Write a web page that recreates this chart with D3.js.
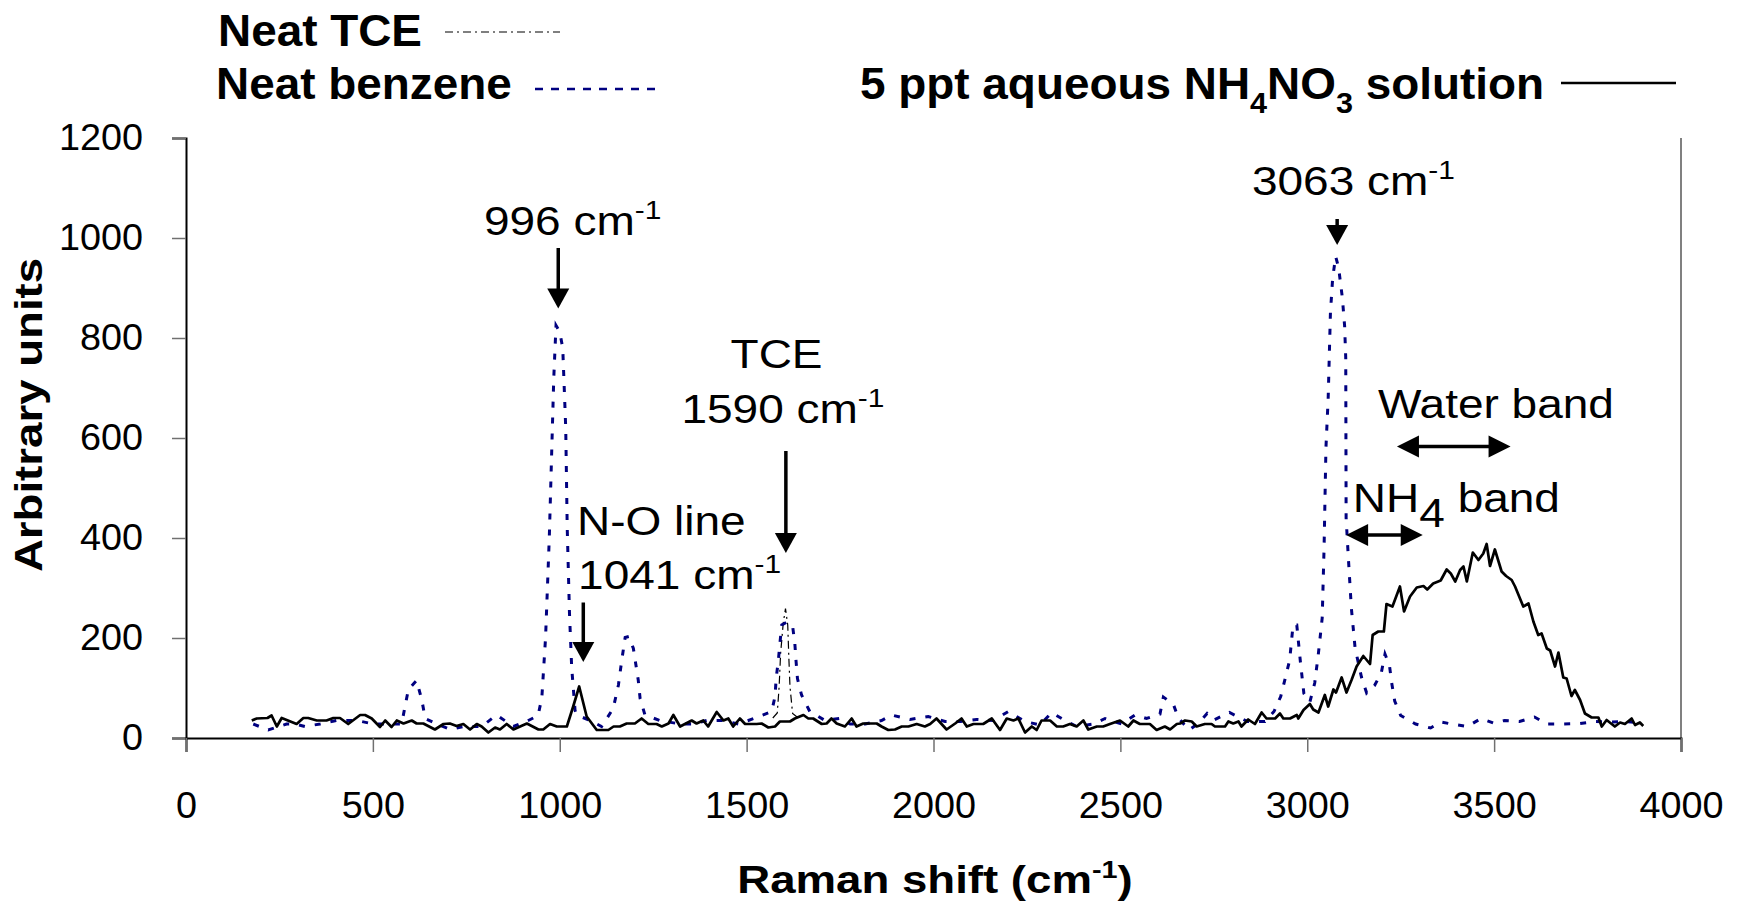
<!DOCTYPE html>
<html>
<head>
<meta charset="utf-8">
<script src="https://cdn.jsdelivr.net/npm/d3@7"></script>
<style>
  body { margin: 0; background: #fff; }
  #raman-chart svg { display: block; }
</style>
</head>
<body>
<div id="raman-chart"></div>
<script>
// values
const xTicks = [0, 500, 1000, 1500, 2000, 2500, 3000, 3500, 4000];
const yTicks = [0, 200, 400, 600, 800, 1000, 1200];

const tceShift  = [1570, 1582, 1587, 1591, 1598, 1604, 1610, 1613, 1616, 1623, 1635];
const tceCounts = [40, 50, 103, 170, 230, 259, 226, 160, 103, 49, 42];

const benzeneShift = [180, 220, 269, 292, 318, 359, 403, 457, 501, 537, 577, 586, 595, 617, 631, 640, 671, 707, 742, 791, 831, 876, 916,
  942, 952, 962, 972, 978, 984, 990, 1000, 1008, 1016, 1020, 1026, 1032, 1041, 1046, 1081, 1112, 1143, 1157, 1166, 1175, 1185,
  1197, 1210, 1215, 1228, 1268, 1322, 1357, 1393, 1438, 1478, 1527, 1567, 1576, 1579, 1585, 1589, 1594, 1608, 1623, 1629, 1632,
  1636, 1647, 1669, 1710, 1748, 1777, 1817, 1861, 1888, 1937, 1986, 2031, 2071, 2115, 2160, 2200, 2245, 2285, 2316, 2352, 2383,
  2428, 2459, 2503, 2539, 2570, 2606, 2615, 2642, 2655, 2684, 2708, 2732, 2750, 2792, 2840, 2887, 2911, 2929, 2941, 2953, 2962,
  2972, 2982, 2991, 3007, 3020, 3030, 3040, 3045, 3050, 3056, 3062, 3068, 3076, 3084, 3094, 3100, 3103, 3104, 3110, 3118, 3128,
  3145, 3159, 3180, 3198, 3208, 3220, 3226, 3234, 3250, 3290, 3330, 3358, 3386, 3428, 3465, 3498, 3528, 3568, 3608, 3640, 3686,
  3730, 3770, 3810, 3854, 3895];
const benzeneCounts = [28, 16, 28, 28, 23, 28, 35, 35, 28, 28, 28, 63, 97, 115, 76, 39, 28, 17, 23, 23, 46, 23, 35,
  45, 80, 200, 400, 560, 720, 825, 812, 780, 620, 420, 250, 140, 55, 46, 35, 23, 59, 106, 156, 201, 203,
  179, 116, 79, 46, 35, 28, 28, 35, 35, 28, 41, 53, 83, 119, 156, 189, 226, 232, 224, 189, 156,
  119, 86, 53, 35, 39, 28, 28, 35, 46, 37, 43, 33, 33, 37, 35, 53, 33, 26, 51, 35, 23,
  28, 39, 28, 46, 39, 48, 82, 67, 40, 16, 29, 49, 36, 51, 33, 33, 53, 83, 119, 156, 226,
  226, 150, 89, 72, 110, 170, 240, 380, 580, 680, 850, 920, 963, 940, 880, 824, 760, 440, 360, 260, 180,
  122, 90, 105, 130, 168, 145, 110, 74, 45, 28, 20, 32, 28, 23, 39, 30, 35, 33, 42, 28, 28,
  29, 33, 32, 33, 30];

const solutionShift = [176, 189, 218, 229, 243, 256, 296, 314, 327, 350, 376, 394, 412, 434, 466, 479, 497, 519, 533, 550, 564, 582,
  604, 617, 635, 666, 689, 706, 724, 742, 760, 778, 791, 809, 827, 840, 858, 876, 894, 912, 943, 956, 974, 992, 1019, 1036, 1052,
  1072, 1099, 1130, 1144, 1161, 1179, 1201, 1219, 1237, 1259, 1273, 1291, 1304, 1322, 1353, 1366, 1384, 1397, 1420, 1438, 1451,
  1464, 1482, 1496, 1527, 1540, 1558, 1576, 1589, 1616, 1629, 1652, 1665, 1678, 1701, 1714, 1727, 1741, 1763, 1781, 1794, 1812,
  1848, 1861, 1879, 1897, 1915, 1933, 1955, 1977, 1991, 2008, 2035, 2058, 2075, 2089, 2107, 2133, 2156, 2178, 2196, 2214, 2227,
  2245, 2263, 2276, 2289, 2312, 2330, 2347, 2365, 2383, 2401, 2414, 2437, 2454, 2472, 2499, 2521, 2535, 2552, 2579, 2597, 2619,
  2633, 2651, 2660, 2673, 2691, 2704, 2726, 2744, 2753, 2780, 2789, 2802, 2816, 2824, 2842, 2860, 2878, 2891, 2914, 2927, 2936,
  2954, 2972, 2976, 2990, 3007, 3016, 3030, 3047, 3056, 3070, 3077, 3092, 3105, 3119, 3132, 3150, 3168, 3175, 3190, 3205, 3212,
  3228, 3248, 3259, 3275, 3293, 3311, 3321, 3337, 3357, 3373, 3384, 3396, 3409, 3418, 3427, 3443, 3458, 3471, 3480, 3489, 3502,
  3520, 3532, 3547, 3556, 3578, 3592, 3605, 3618, 3627, 3641, 3650, 3663, 3672, 3685, 3694, 3707, 3716, 3730, 3743, 3761, 3779,
  3788, 3801, 3823, 3837, 3850, 3868, 3877, 3890, 3899];
const solutionCounts = [35, 39, 40, 45, 23, 40, 28, 40, 40, 35, 35, 40, 40, 28, 46, 46, 39, 22, 35, 22, 35, 29,
  35, 29, 29, 17, 28, 29, 24, 28, 17, 28, 23, 11, 21, 17, 28, 17, 23, 29, 17, 17, 28, 23, 23, 63, 103,
  43, 16, 16, 23, 23, 29, 29, 39, 28, 28, 23, 29, 46, 23, 35, 29, 35, 23, 52, 35, 39,
  23, 39, 28, 28, 29, 21, 23, 33, 33, 39, 46, 39, 39, 28, 29, 39, 29, 23, 39, 23, 29,
  29, 23, 16, 17, 23, 23, 28, 23, 28, 39, 17, 29, 39, 23, 28, 28, 39, 16, 39, 35, 39,
  11, 23, 16, 35, 35, 23, 23, 28, 23, 35, 17, 23, 23, 28, 35, 23, 35, 28, 28, 16, 23,
  17, 28, 29, 35, 33, 23, 28, 28, 23, 23, 33, 29, 33, 23, 37, 28, 51, 39, 39, 49, 39,
  39, 46, 39, 56, 68, 57, 51, 86, 63, 97, 91, 121, 91, 117, 143, 164, 148, 206, 213, 213, 268,
  263, 303, 253, 283, 301, 304, 297, 309, 315, 337, 329, 313, 336, 343, 313, 371, 356, 369, 388, 344, 377,
  333, 324, 316, 303, 263, 269, 233, 206, 209, 179, 175, 143, 171, 121, 119, 84, 96, 76, 49, 41, 41,
  23, 36, 23, 31, 28, 39, 26, 31, 24];

// peak markers: [shift, arrow top, arrow tip]
const peakArrows = [[996, 980, 859], [1063, 271, 152], [1605, 574, 370], [3080, 1038, 986]];
// band markers: [from shift, to shift, level]
const bandArrows = [[3240, 3544, 583], [3104, 3309, 406]];

function stretchedText(parent, px, py, size, sx, anchor, weight) {
  return parent.append("text")
    .attr("transform", `translate(${px},${py}) scale(${sx},1)`)
    .attr("text-anchor", anchor)
    .style("font-family", "Arial, 'Liberation Sans', sans-serif")
    .style("font-size", size + "px")
    .style("font-weight", weight || "normal")
    .attr("fill", "#000");
}

function addScript(t, main, script, size, shift, tail) {
  t.append("tspan").text(main);
  t.append("tspan").style("font-size", size + "px").attr("dy", shift).text(script);
  if (tail !== undefined) t.append("tspan").attr("dy", -shift).text(tail);
}

function createChart() {
  const margin = { top: 138, right: 57, bottom: 166, left: 186 };
  const width = 1738 - margin.left - margin.right;
  const height = 904 - margin.top - margin.bottom;

  d3.select("#raman-chart").html("");

  const root = d3.select("#raman-chart")
    .append("svg")
    .attr("width", width + margin.left + margin.right)
    .attr("height", height + margin.top + margin.bottom);

  const svg = root.append("g")
    .attr("transform", `translate(${margin.left},${margin.top})`);

  const x = d3.scaleLinear().domain([0, 4000]).range([0, width]);
  const y = d3.scaleLinear().domain([0, 1200]).range([height, 0]);

  // right border of the plot area
  svg.append("line")
    .attr("x1", width).attr("x2", width)
    .attr("y1", 0).attr("y2", height)
    .attr("stroke", "#808080").attr("stroke-width", 2);

  const tickSx = 1.05;

  const yAxis = svg.append("g")
    .call(d3.axisLeft(y).tickValues(yTicks).tickFormat(d3.format("d")).tickSize(14).tickPadding(29));
  yAxis.select(".domain").attr("stroke", "#000").attr("stroke-width", 2);
  yAxis.selectAll(".tick line").attr("stroke", "#707070").attr("stroke-width", 1.5);
  yAxis.selectAll("text")
    .style("font-family", "Arial, 'Liberation Sans', sans-serif")
    .style("font-size", "36px")
    .attr("fill", "#000")
    .attr("transform", `scale(${tickSx},1)`)
    .attr("x", -43 / tickSx);

  const xAxis = svg.append("g")
    .attr("transform", `translate(0,${height})`)
    .call(d3.axisBottom(x).tickValues(xTicks).tickFormat(d3.format("d")).tickSize(14));
  xAxis.select(".domain").attr("stroke", "#000").attr("stroke-width", 2);
  xAxis.selectAll(".tick line").attr("stroke", "#707070").attr("stroke-width", 1.5);
  xAxis.selectAll("text")
    .style("font-family", "Arial, 'Liberation Sans', sans-serif")
    .style("font-size", "36px")
    .attr("fill", "#000")
    .attr("transform", `scale(${tickSx},1)`)
    .attr("y", 80).attr("dy", 0);

  // axis titles
  const xt = stretchedText(root, 935, 893, 38, 1.2, "middle", "bold");
  addScript(xt, "Raman shift (cm", "-1", 24, -15, ")");

  stretchedText(root, 0, 0, 38, 1.2, "middle", "bold")
    .attr("transform", "translate(42,415) rotate(-90) scale(1.2,1)")
    .text("Arbitrary units");

  // spectra
  const line = d3.line().x(d => x(d[0])).y(d => y(d[1]));

  svg.append("path")
    .datum(d3.zip(tceShift, tceCounts))
    .attr("d", line)
    .attr("fill", "none")
    .attr("stroke", "#000")
    .attr("stroke-width", 1.2)
    .attr("stroke-dasharray", "8,4,2,4");

  svg.append("path")
    .datum(d3.zip(benzeneShift, benzeneCounts))
    .attr("d", line)
    .attr("fill", "none")
    .attr("stroke", "#000080")
    .attr("stroke-width", 3)
    .attr("stroke-dasharray", "6,10");

  svg.append("path")
    .datum(d3.zip(solutionShift, solutionCounts))
    .attr("d", line)
    .attr("fill", "none")
    .attr("stroke", "#000")
    .attr("stroke-width", 2.7)
    .attr("stroke-linejoin", "round");

  // arrows
  peakArrows.forEach(([s, top, tip]) => {
    const cx = x(s), y0 = y(top), y1 = y(tip);
    svg.append("line")
      .attr("x1", cx).attr("x2", cx)
      .attr("y1", y0).attr("y2", y1 - 16)
      .attr("stroke", "#000").attr("stroke-width", 3.5);
    svg.append("path")
      .attr("d", `M${cx - 11},${y1 - 20}L${cx + 11},${y1 - 20}L${cx},${y1}Z`)
      .attr("fill", "#000");
  });

  bandArrows.forEach(([a, b, lvl]) => {
    const x1 = x(a), x2 = x(b), cy = y(lvl);
    svg.append("line")
      .attr("x1", x1 + 18).attr("x2", x2 - 18)
      .attr("y1", cy).attr("y2", cy)
      .attr("stroke", "#000").attr("stroke-width", 3.5);
    svg.append("path")
      .attr("d", `M${x1},${cy}L${x1 + 22},${cy - 11}L${x1 + 22},${cy + 11}Z M${x2},${cy}L${x2 - 22},${cy - 11}L${x2 - 22},${cy + 11}Z`)
      .attr("fill", "#000");
  });

  // annotation texts
  const annSize = 40, annSx = 1.15;
  addScript(stretchedText(svg, x(797), y(1006), annSize, annSx, "start"), "996 cm", "-1", 26, -16);
  stretchedText(svg, x(1580), y(741), annSize, annSx, "middle").text("TCE");
  addScript(stretchedText(svg, x(1597), y(630), annSize, annSx, "middle"), "1590 cm", "-1", 26, -16);
  stretchedText(svg, x(1046), y(406), annSize, annSx, "start").text("N-O line");
  addScript(stretchedText(svg, x(1049), y(298), annSize, annSx, "start"), "1041 cm", "-1", 26, -16);
  addScript(stretchedText(svg, x(2852), y(1086), annSize, annSx, "start"), "3063 cm", "-1", 26, -16);
  stretchedText(svg, x(3189), y(640), annSize, annSx, "start").text("Water band");
  addScript(stretchedText(svg, x(3122), y(452), annSize, annSx, "start"), "NH", "4", annSize, 15, " band");

  // legend
  const legend = root.append("g");
  const legSize = 45, legSx = 1.02;
  stretchedText(legend, 218, 46, legSize, legSx, "start", "bold").text("Neat TCE");
  legend.append("line")
    .attr("x1", 445).attr("x2", 560).attr("y1", 32).attr("y2", 32)
    .attr("stroke", "#000").attr("stroke-width", 1.2).attr("stroke-dasharray", "8,4,2,4");

  stretchedText(legend, 216, 99, legSize, legSx, "start", "bold").text("Neat benzene");
  legend.append("line")
    .attr("x1", 535).attr("x2", 660).attr("y1", 89).attr("y2", 89)
    .attr("stroke", "#000080").attr("stroke-width", 2.6).attr("stroke-dasharray", "8,8");

  const sol = stretchedText(legend, 860, 99, legSize, legSx, "start", "bold");
  sol.append("tspan").text("5 ppt aqueous NH");
  sol.append("tspan").style("font-size", "30px").attr("dy", 14).text("4");
  sol.append("tspan").attr("dy", -14).text("NO");
  sol.append("tspan").style("font-size", "30px").attr("dy", 14).text("3");
  sol.append("tspan").attr("dy", -14).text(" solution");
  legend.append("line")
    .attr("x1", 1561).attr("x2", 1676).attr("y1", 83).attr("y2", 83)
    .attr("stroke", "#000").attr("stroke-width", 2.7);
}

document.addEventListener("DOMContentLoaded", function() {
  createChart();
});
</script>
</body>
</html>
